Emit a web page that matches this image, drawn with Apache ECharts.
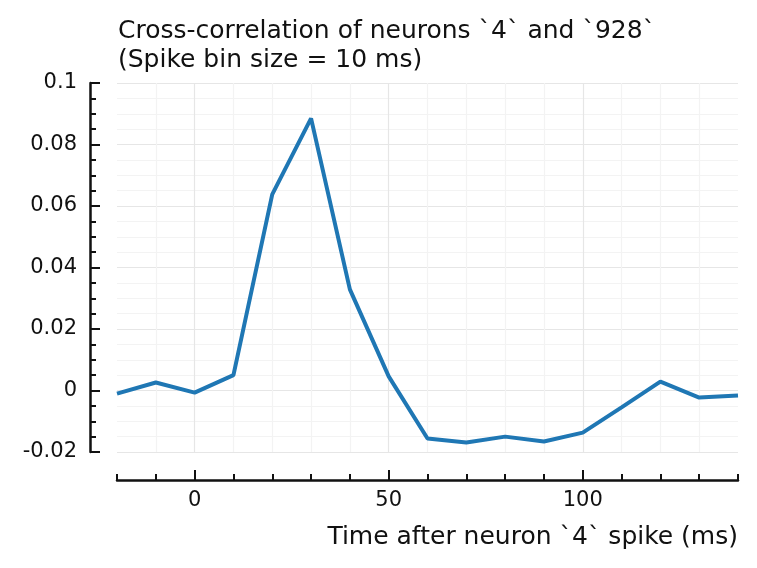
<!DOCTYPE html>
<html>
<head>
<meta charset="utf-8">
<script src="https://cdn.jsdelivr.net/npm/echarts@6/dist/echarts.min.js"></script>
<style>
  html, body { margin: 0; padding: 0; background: #fff; }
  #chart { width: 757px; height: 568px; }
</style>
</head>
<body>
<div id="chart"></div>
<script>
// lag (ms) and cross-correlation values
const lags = [-20, -10, 0, 10, 20, 30, 40, 50, 60, 70, 80, 90, 100, 110, 120, 130, 140];
const corr = [-0.001, 0.0026, -0.0007, 0.005, 0.0638, 0.0885, 0.0329, 0.0046, -0.0156,
  -0.0169, -0.015, -0.0166, -0.0137, -0.0055, 0.0029, -0.0023, -0.0016];
const xMajorTicks = [0, 50, 100];

const font = "DejaVu Sans";
const majorGrid = "#e6e6e6";
const minorGrid = "#f3f3f3";

const chart = echarts.init(document.getElementById("chart"));

chart.setOption({
  animation: false,
  title: {
    text: "Cross-correlation of neurons `4` and `928`\n(Spike bin size = 10 ms)",
    left: 118,
    top: 17,
    padding: 0,
    textStyle: { fontFamily: font, fontSize: 25, fontWeight: "normal", color: "#111", lineHeight: 29 },
  },
  grid: { left: 117, right: 19, top: 83, bottom: 116 },
  xAxis: [
    {
      type: "value",
      position: "bottom",
      min: -20,
      max: 140,
      interval: 10,
      offset: 28,
      axisLine: { onZero: false, lineStyle: { color: "#111", width: 2.5 } },
      axisTick: { inside: true, length: 6, lineStyle: { color: "#111", width: 2 } },
      axisLabel: { show: false },
      // min line is skipped, so the cycle starts at -10: 0, 50, 100 get the darker colour
      splitLine: {
        show: true,
        showMinLine: false,
        showMaxLine: false,
        lineStyle: { width: 1.2, color: [minorGrid, majorGrid, minorGrid, minorGrid, minorGrid] },
      },
      name: "Time after neuron `4` spike (ms)",
      nameLocation: "end",
      nameGap: 0,
      nameTextStyle: {
        fontFamily: font, fontSize: 25, color: "#111",
        align: "right", verticalAlign: "top", padding: [45, 0, 0, 0],
      },
    },
    {
      type: "value",
      position: "bottom",
      min: -20,
      max: 140,
      offset: 28,
      axisLine: { show: false, onZero: false },
      axisTick: { inside: true, length: 10, customValues: xMajorTicks, lineStyle: { color: "#111", width: 2 } },
      axisLabel: { customValues: xMajorTicks, margin: 10, fontFamily: font, fontSize: 21, color: "#111" },
      splitLine: { show: false },
    },
  ],
  yAxis: {
    type: "value",
    min: -0.02,
    max: 0.1,
    interval: 0.02,
    offset: 27,
    axisLine: { show: true, onZero: false, lineStyle: { color: "#111", width: 2.5 } },
    axisTick: { show: true, inside: true, length: 10, lineStyle: { color: "#111", width: 2 } },
    minorTick: { show: true, splitNumber: 4, length: 6, lineStyle: { color: "#111", width: 2 } },
    axisLabel: {
      margin: 13, fontFamily: font, fontSize: 21, color: "#111",
      formatter: (v) => String(+v.toFixed(3)),
    },
    splitLine: { lineStyle: { color: majorGrid, width: 1.2 } },
    minorSplitLine: { show: true, lineStyle: { color: minorGrid, width: 1.2 } },
  },
  series: [
    {
      type: "line",
      xAxisIndex: 0,
      data: lags.map((t, i) => [t, corr[i]]),
      showSymbol: false,
      lineStyle: { color: "#1f77b4", width: 4 },
    },
  ],
});
</script>
</body>
</html>
